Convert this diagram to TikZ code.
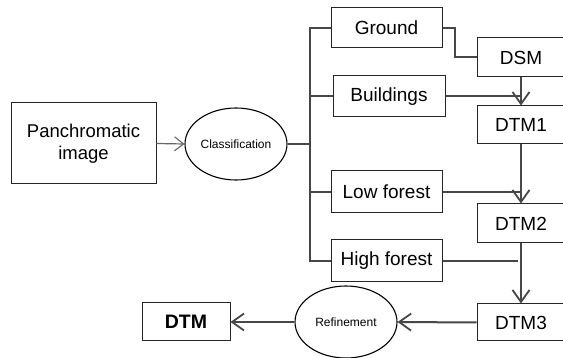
\documentclass[tikz,border=0pt]{standalone}
\usepackage{fontspec}
\setmainfont{Liberation Sans}
\usetikzlibrary{shapes.geometric,arrows.meta}
\begin{document}
\begin{tikzpicture}[x=1pt,y=-1pt,
  box/.style={draw=black!85,line width=1pt,rectangle,inner sep=0pt,font=\fontsize{19}{22}\selectfont,align=center},
  oval/.style={draw=black,line width=1.1pt,ellipse,inner sep=0pt,minimum width=102pt,minimum height=72pt,font=\fontsize{12}{14}\selectfont},
  conn/.style={draw=black!72,line width=2pt},
  arr/.style={conn,-{Straight Barb[length=12pt,width=17pt,line width=1.8pt]}},
  thinarr/.style={draw=black!60,line width=1.2pt,-{Straight Barb[length=9pt,width=14pt,line width=1.1pt]}}]
\useasboundingbox (0,0) rectangle (563,358);
\clip (0,0) rectangle (563,358);
\fill[white] (0,0) rectangle (563,358);
% nodes
\node[box,minimum width=145pt,minimum height=81pt,font=\fontsize{18.5}{22}\selectfont] (pan) at (83.5,143.5) {Panchromatic\\image};
\node[oval] (cls) at (236,144) {Classification};
\node[box,minimum width=111pt,minimum height=40pt] (gr) at (386.5,28) {Ground};
\node[box,minimum width=112pt,minimum height=41pt] (bu) at (389,96.5) {Buildings};
\node[box,minimum width=111pt,minimum height=42pt] (lf) at (386.5,192) {Low forest};
\node[box,minimum width=111pt,minimum height=42pt] (hf) at (386.5,261) {High forest};
\node[box,minimum width=88pt,minimum height=39pt] (dsm) at (521,57.5) {DSM};
\node[box,minimum width=88pt,minimum height=38pt] (d1) at (521,125) {DTM1};
\node[box,minimum width=88pt,minimum height=39pt] (d2) at (521,223.5) {DTM2};
\node[box,minimum width=88pt,minimum height=37pt] (d3) at (521,322.5) {DTM3};
\node[oval] (ref) at (346,322) {Refinement};
\node[box,minimum width=88pt,minimum height=38pt,font=\fontsize{19.5}{22}\selectfont\bfseries] (dtm) at (186,322) {DTM};
\coordinate (bus) at (310,144);
% connectors
\draw[thinarr] (pan.east) -- (cls.west);
\draw[conn] (cls.east) -- (bus);
\draw[conn] (gr.west) -- (gr.west -| bus) -- (hf.west -| bus) -- (hf.west);
\draw[conn] (bu.west) -- (bu.west -| bus);
\draw[conn] (lf.west) -- (lf.west -| bus);
\draw[conn] (gr.east) -- ++(12,0) |- (dsm.west);
\draw[arr] (dsm.south) -- (d1.north);
\draw[conn] (bu.east) -- (bu.east -| d1.north);
\draw[arr] (d1.south) -- (d2.north);
\draw[conn] (lf.east) -- (lf.east -| d2.north);
\draw[arr] (d2.south) -- (d3.north);
\draw[conn] (hf.east) -- ([xshift=-3pt]hf.east -| d2.south);
\draw[arr] (d3.west) -- (ref.east);
\draw[arr] (ref.west) -- (dtm.east);
\end{tikzpicture}
\end{document}
